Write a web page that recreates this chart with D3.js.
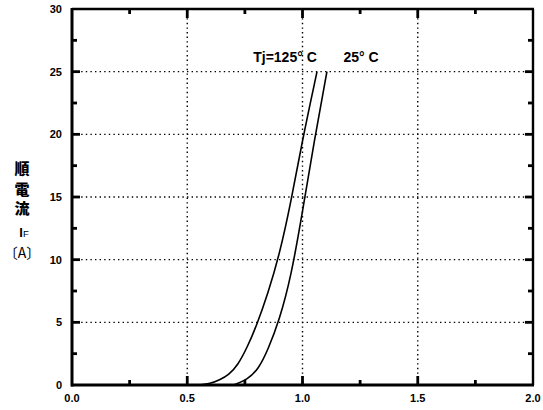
<!DOCTYPE html>
<html>
<head>
<meta charset="utf-8">
<script src="https://cdn.jsdelivr.net/npm/d3@7/dist/d3.min.js"></script>
<style>
  html, body { margin: 0; padding: 0; background: #fff; }
  svg { display: block; }
  .tick-label { font-family: "Liberation Sans", Arial, sans-serif; font-weight: bold; font-size: 11px; fill: #000; }
  .ylab { font-family: "Noto Sans CJK JP", "Noto Sans CJK SC", sans-serif; font-weight: 900; font-size: 15px; fill: #000; }
  .series-label { font-family: "Liberation Sans Narrow", "Liberation Sans", Arial, sans-serif; font-weight: bold; font-size: 14px; fill: #000; }
</style>
</head>
<body>
<svg id="chart" width="543" height="410"></svg>
<script>
// Forward voltage VF (V) vs forward current IF (A)
const vf125 = [0.55, 0.60, 0.64, 0.68, 0.72, 0.76, 0.80, 0.85, 0.90, 0.95, 1.00, 1.063];
const if125 = [0, 0.1, 0.4, 0.8, 1.6, 3.0, 4.7, 7.3, 10.4, 14.6, 19.6, 25];
const vf25 = [0.70, 0.76, 0.81, 0.85, 0.90, 0.95, 1.00, 1.05, 1.106];
const if25 = [0, 0.4, 1.3, 2.8, 5.2, 8.6, 13.8, 19.4, 25];

const xTicks = [0.0, 0.5, 1.0, 1.5, 2.0];
const xMinorTicks = [0.25, 0.75, 1.25, 1.75];
const yTicks = [0, 5, 10, 15, 20, 25, 30];
const yMinorTicks = [2.5, 7.5, 12.5, 17.5, 22.5, 27.5];
const yTitle = ["順", "電", "流"];
const seriesNames = ["Tj=125° C", "25° C"];

const svg = d3.select("#chart");
const pLeft = 72, pRight = 533, pTop = 9, pBottom = 385;

const x = d3.scaleLinear().domain([0, 2]).range([pLeft, pRight]);
const y = d3.scaleLinear().domain([0, 30]).range([pBottom, pTop]);

// Dotted grid
const grid = svg.append("g").attr("stroke", "#000").attr("stroke-width", 1.4)
  .attr("stroke-dasharray", "1.4,3.2").attr("fill", "none");
grid.selectAll("line.gx").data(xTicks.slice(1, -1)).join("line")
  .attr("x1", d => x(d)).attr("x2", d => x(d)).attr("y1", pTop).attr("y2", pBottom);
grid.selectAll("line.gy").data(yTicks.slice(1, -1)).join("line")
  .attr("x1", pLeft).attr("x2", pRight).attr("y1", d => y(d)).attr("y2", d => y(d));

// Inward tick marks on all four sides
const majorY = yTicks.slice(1, -1).map(v => ({v, len: 8}));
const minorY = yMinorTicks.map(v => ({v, len: 5}));
const majorX = xTicks.slice(1, -1).map(v => ({v, len: 9}));
const minorX = xMinorTicks.map(v => ({v, len: 5}));
const tickY = majorY.concat(minorY);
const tickX = majorX.concat(minorX);
const tickG = svg.append("g");
function tickLines(cls, data, fx1, fx2, fy1, fy2) {
  tickG.selectAll("line." + cls).data(data).join("line").attr("class", cls)
    .attr("x1", fx1).attr("x2", fx2).attr("y1", fy1).attr("y2", fy2)
    .attr("stroke", "#000").attr("stroke-width", 2.8);
}
tickLines("tkl", tickY, pLeft, d => pLeft + d.len, d => y(d.v), d => y(d.v));
tickLines("tkr", tickY, pRight, d => pRight - d.len, d => y(d.v), d => y(d.v));
tickLines("tkb", tickX, d => x(d.v), d => x(d.v), pBottom, d => pBottom - d.len);
tickLines("tkt", tickX, d => x(d.v), d => x(d.v), pTop, d => pTop + d.len);

// Frame
svg.append("line").attr("x1", pLeft).attr("x2", pLeft).attr("y1", pTop - 1).attr("y2", pBottom + 1.5)
  .attr("stroke", "#000").attr("stroke-width", 3);
svg.append("line").attr("x1", pLeft - 1).attr("x2", pRight + 1).attr("y1", pBottom).attr("y2", pBottom)
  .attr("stroke", "#000").attr("stroke-width", 3);
svg.append("line").attr("x1", pLeft).attr("x2", pRight + 1).attr("y1", pTop).attr("y2", pTop)
  .attr("stroke", "#000").attr("stroke-width", 2.6);
svg.append("line").attr("x1", pRight).attr("x2", pRight).attr("y1", pTop).attr("y2", pBottom)
  .attr("stroke", "#000").attr("stroke-width", 2.4);

// Tick labels
svg.selectAll("text.ylbl").data(yTicks).join("text").attr("class", "tick-label")
  .attr("x", 62).attr("y", d => y(d)).attr("dy", "0.36em").attr("text-anchor", "end")
  .text(d => d);
svg.selectAll("text.xlbl").data(xTicks).join("text").attr("class", "tick-label")
  .attr("x", d => x(d)).attr("y", 402).attr("text-anchor", "middle")
  .text(d => d.toFixed(1));

// Vertical axis title
svg.selectAll("text.yl").data(yTitle).join("text").attr("class", "ylab")
  .attr("x", 22).attr("y", (d, i) => [174, 195, 214][i]).attr("text-anchor", "middle").text(d => d);
const iF = svg.append("text").attr("x", 24).attr("y", 237)
  .attr("text-anchor", "middle")
  .style("font-family", "'Liberation Sans', Arial, sans-serif").style("font-weight", "bold")
  .style("font-size", "13px");
iF.append("tspan").text("I");
iF.append("tspan").style("font-size", "9.5px").style("font-weight", "normal").text("F");
svg.append("text").attr("x", 22).attr("y", 258).attr("text-anchor", "middle")
  .style("font-family", "'Noto Sans CJK JP', sans-serif").style("font-size", "14px").text("〔A〕");

// Curves
const line = d3.line().x(d => x(d[0])).y(d => y(d[1])).curve(d3.curveBasis);
const curves = [d3.zip(vf125, if125), d3.zip(vf25, if25)];
svg.selectAll("path.curve").data(curves).join("path")
  .attr("fill", "none").attr("stroke", "#000").attr("stroke-width", 1.6)
  .attr("d", line);

// Series labels
svg.append("text").attr("class", "series-label").attr("x", 285).attr("y", 62)
  .attr("text-anchor", "middle").text(seriesNames[0]);
svg.append("text").attr("class", "series-label").attr("x", 361).attr("y", 62)
  .attr("text-anchor", "middle").text(seriesNames[1]);
</script>
</body>
</html>
